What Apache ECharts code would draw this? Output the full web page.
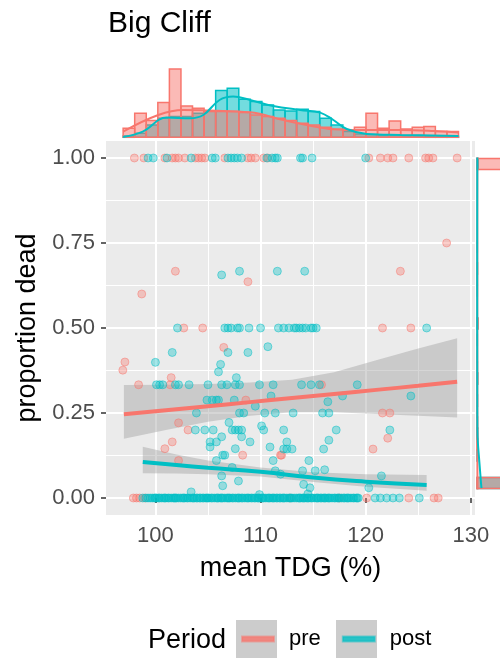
<!DOCTYPE html>
<html>
<head>
<meta charset="utf-8">
<title>Big Cliff</title>
<script src="https://cdn.jsdelivr.net/npm/echarts@6.0.0/dist/echarts.min.js"></script>
<style>
  html, body { margin: 0; padding: 0; background: #fff; }
  #chart { width: 500px; height: 658px; }
</style>
</head>
<body>
<div id="chart"></div>
<script>
var RED = '#F8766D'
var CYAN = '#00BFC4'
var FONT = 'Liberation Sans, Arial, sans-serif'

var xTicks = [100, 110, 120, 130]
var xMinor = [105, 115, 125]
var yTicks = [0, 0.25, 0.5, 0.75, 1]
var yMinor = [0.125, 0.375, 0.625, 0.875]

// pre period, mean TDG vs proportion dead
var preAt1 = [98.0, 98.9, 100.9, 101.6, 101.9, 102.2, 102.8, 103.8, 104.1, 104.4, 104.7, 106.6, 108.8, 109.1,
  109.5, 110.3, 110.7, 120.3, 121.4, 122.1, 122.6, 124.1, 125.7, 126.0, 126.4, 128.7]
var preAt0 = [97.9, 98.2, 98.5, 99.0, 112.8, 117.5, 120.1, 124.1, 126.5, 126.9]
var preMid = [[101.9, 0.667], [108.8, 0.636], [98.7, 0.6], [127.7, 0.75], [123.3, 0.667],
  [102.7, 0.5], [104.5, 0.5], [121.6, 0.5], [124.3, 0.5], [106.5, 0.443], [97.1, 0.4], [96.9, 0.376],
  [101.5, 0.354], [98.4, 0.333], [101.4, 0.333], [115.8, 0.333], [108.6, 0.288], [121.6, 0.25],
  [122.3, 0.25], [102.2, 0.221], [103.1, 0.2], [122.1, 0.176], [101.6, 0.165], [100.9, 0.145],
  [120.7, 0.144], [112.0, 0.126], [108.3, 0.126], [111.9, 0.126], [102.2, 0.11]]

// post period
var postAt1 = [99.3, 99.8, 101.1, 103.4, 105.4, 105.7, 106.9, 107.2, 107.5, 107.8, 108.2, 110.6, 111.1, 111.4,
  111.6, 113.8, 114.0, 114.9, 120.0]
var postAt0 = [98.8, 99.1, 99.3, 99.5, 99.7, 99.9, 100.0, 100.1, 100.3, 100.4, 100.6, 100.8, 100.9, 101.0,
  101.2, 101.3, 101.5, 101.7, 101.8, 101.9, 102.0, 102.2, 102.4, 102.6, 102.7, 102.8, 103.0, 103.1, 103.3,
  103.5, 103.6, 103.7, 103.9, 104.0, 104.2, 104.3, 104.5, 104.6, 104.8, 104.9, 105.0, 105.1, 105.3, 105.4,
  105.6, 105.8, 105.9, 106.0, 106.2, 106.3, 106.4, 106.6, 106.8, 106.9, 107.0, 107.1, 107.3, 107.4, 107.6,
  107.8, 107.9, 108.0, 108.2, 108.3, 108.5, 108.7, 108.8, 108.9, 109.1, 109.2, 109.4, 109.5, 109.7, 109.8,
  109.9, 110.1, 110.2, 110.3, 110.5, 110.7, 110.8, 110.9, 111.1, 111.2, 111.3, 111.5, 111.6, 111.8, 111.9,
  112.1, 112.2, 112.3, 112.5, 112.7, 112.8, 112.9, 113.0, 113.2, 113.4, 113.6, 113.7, 113.8, 114.0, 114.1,
  114.2, 114.4, 114.5, 114.6, 114.8, 114.9, 115.1, 115.3, 115.4, 115.5, 115.7, 115.8, 116.0, 116.1, 116.2,
  116.4, 116.5, 116.6, 116.8, 117.0, 117.1, 117.3, 117.4, 117.5, 117.7, 117.9, 118.0, 118.2, 118.3, 118.4,
  118.6, 118.8, 118.9, 119.1, 119.2, 119.3, 120.9, 121.4, 122.0, 122.6, 123.2, 125.1]
var postMid = [[106.3, 0.656], [108.0, 0.667], [111.6, 0.667], [114.2, 0.667],
  [102.1, 0.5], [106.6, 0.5], [106.9, 0.5], [107.2, 0.5], [107.8, 0.5], [108.0, 0.5], [108.9, 0.5],
  [110.0, 0.5], [111.7, 0.5], [112.2, 0.5], [112.7, 0.5], [113.2, 0.5], [113.4, 0.5], [113.7, 0.5],
  [114.0, 0.5], [114.3, 0.5], [114.8, 0.5], [115.0, 0.5], [115.3, 0.5], [125.8, 0.5],
  [110.7, 0.445], [101.6, 0.428], [106.9, 0.428], [108.8, 0.428], [100.0, 0.399], [106.2, 0.393],
  [106.0, 0.371], [107.7, 0.354],
  [100.1, 0.333], [100.4, 0.333], [100.7, 0.333], [101.9, 0.333], [102.2, 0.333], [103.2, 0.333],
  [105.0, 0.333], [106.3, 0.333], [106.8, 0.333], [107.6, 0.333], [108.0, 0.333], [109.9, 0.333],
  [111.2, 0.333], [113.9, 0.333], [114.8, 0.333], [115.6, 0.333], [119.2, 0.333],
  [104.9, 0.288], [105.4, 0.288], [105.8, 0.288], [106.0, 0.288], [107.5, 0.288], [111.0, 0.3],
  [116.4, 0.283], [117.8, 0.3], [124.3, 0.3],
  [103.9, 0.25], [108.0, 0.25], [108.4, 0.25], [110.4, 0.25], [111.4, 0.25], [113.1, 0.25],
  [115.9, 0.25], [116.5, 0.25], [109.5, 0.27], [107.0, 0.222],
  [103.8, 0.2], [104.7, 0.2], [105.5, 0.2], [107.3, 0.2], [107.6, 0.2], [107.9, 0.2], [108.2, 0.2],
  [110.3, 0.2], [112.2, 0.2], [117.2, 0.2], [122.3, 0.2], [110.1, 0.212],
  [106.3, 0.18], [108.2, 0.18], [105.2, 0.165], [105.8, 0.165], [109.0, 0.165], [112.5, 0.165],
  [116.5, 0.17], [105.2, 0.15],
  [112.2, 0.144], [112.5, 0.144], [113.0, 0.144], [107.6, 0.145], [110.9, 0.15], [116.0, 0.144],
  [106.4, 0.126], [106.6, 0.126], [105.8, 0.11], [111.2, 0.11], [114.6, 0.11],
  [107.3, 0.09], [116.1, 0.083], [114.0, 0.08], [115.2, 0.08], [111.4, 0.08], [111.9, 0.07],
  [121.5, 0.065], [106.3, 0.065], [107.9, 0.05], [114.1, 0.04], [114.7, 0.03], [120.3, 0.03],
  [114.5, 0.012], [106.4, 0.036], [103.4, 0.018], [109.9, 0.01]]

// fitted curves with confidence band
var preFitX = [97.0, 101, 105, 109, 113, 117, 121, 125, 128.7]
var preFit = [0.246, 0.258, 0.270, 0.282, 0.294, 0.306, 0.318, 0.330, 0.342]
var preLo = [0.174, 0.200, 0.224, 0.242, 0.252, 0.252, 0.247, 0.242, 0.237]
var preHi = [0.332, 0.333, 0.335, 0.340, 0.348, 0.370, 0.405, 0.440, 0.470]
var postFitX = [98.8, 102, 105, 110, 115, 120, 125.8]
var postFit = [0.106, 0.097, 0.089, 0.077, 0.060, 0.048, 0.038]
var postLo = [0.073, 0.072, 0.070, 0.063, 0.047, 0.033, 0.021]
var postHi = [0.151, 0.128, 0.110, 0.090, 0.076, 0.070, 0.068]

// top margin: histogram of mean TDG + density
var histEdges = [96.93, 98.03, 99.13, 100.23, 101.33, 102.43, 103.53, 104.63, 105.73, 106.83, 107.93, 109.03,
  110.13, 111.23, 112.33, 113.43, 114.53, 115.63, 116.73, 117.83, 118.93, 120.03, 121.13, 122.23, 123.33,
  124.43, 125.53, 126.63, 127.73, 128.83]
var preHist = [9, 24, 16.7, 34.7, 68.3, 31.3, 29, 25.7, 25.7, 25.7, 24.7, 22.3, 20.7, 19, 16.7, 14, 12.3, 10, 8,
  7.3, 10, 24, 9, 16.3, 8.3, 10, 10.7, 5.7, 5.7]
var postHist = [1.3, 4, 12.3, 19, 20.7, 20.7, 24, 26, 46.7, 49, 38, 35.7, 32.3, 27.3, 26.3, 28, 25.7, 19, 12.3,
  5.7, 3.3, 2.7, 2.3, 2, 1.7, 1.7, 1.3, 1.3, 1]
var preDens = [[96.93, 5.7], [100.27, 22.3], [102.65, 27.3], [105.19, 26.7], [109.0, 25], [112.17, 17.3],
  [114.4, 12.3], [116.93, 8], [119.48, 7.3], [123.29, 7.3], [126.46, 6.3], [128.84, 4.7]]
var postDens = [[96.93, 0.3], [98.8, 5.7], [101.07, 19.7], [103.3, 19], [104.55, 22.3], [106.1, 37.3],
  [107.4, 40.7], [109.0, 37.3], [111.2, 31.3], [113.76, 27.3], [115.67, 24.7], [116.93, 17.3],
  [118.2, 8.3], [120.1, 3.3], [123.3, 2.3], [128.84, 1.3]]

// right margin: histogram of proportion dead + density
var preSide = [[-0.017, 0.017, 100], [0.983, 1.017, 100], [0.103, 0.138, 3], [0.138, 0.172, 2.5],
  [0.172, 0.207, 2], [0.207, 0.241, 1.2], [0.241, 0.276, 2], [0.276, 0.31, 1.2], [0.31, 0.345, 3],
  [0.345, 0.379, 1.5], [0.379, 0.414, 1.2], [0.431, 0.466, 1.2], [0.483, 0.517, 4], [0.586, 0.621, 1.2],
  [0.621, 0.655, 1.2], [0.655, 0.69, 2], [0.724, 0.759, 1.2]]
var postSide = [[-0.017, 0.017, 100], [0.983, 1.017, 5], [0.069, 0.103, 2], [0.138, 0.172, 2],
  [0.31, 0.345, 2], [0.483, 0.517, 2.5]]
var preSideDens = [[1.5, 1.02], [1.2, 0.9], [1.2, 0.5], [1.3, 0.2], [1.6, 0.05], [2, -0.02]]
var postSideDens = [[1.2, 1.02], [0.8, 0.7], [1.0, 0.3], [1.5, 0.166], [4, 0.12], [8, 0.08], [12, 0.04],
  [16, 0.0], [18, -0.016]]

function pairsAt(xs, y) {
  return xs.map(function (x) { return [x, y] })
}

function histRect(fill, stroke) {
  return function (params, api) {
    var a = api.coord([api.value(0), api.value(2)])
    var b = api.coord([api.value(1), 0])
    return {
      type: 'rect',
      shape: { x: a[0], y: a[1], width: b[0] - a[0], height: b[1] - a[1] },
      style: { fill: fill, stroke: stroke, lineWidth: 1.5 }
    }
  }
}

function sideRect(fill, stroke) {
  return function (params, api) {
    var a = api.coord([0, api.value(1)])
    var b = api.coord([api.value(2), api.value(0)])
    return {
      type: 'rect',
      shape: { x: a[0], y: a[1], width: b[0] - a[0], height: b[1] - a[1] },
      style: { fill: fill, stroke: stroke, lineWidth: 1.5 }
    }
  }
}

function band(name, xs, lo, hi) {
  return {
    name: name,
    type: 'custom',
    xAxisIndex: 0,
    yAxisIndex: 0,
    silent: true,
    data: [[xs[0], lo[0]]],
    renderItem: function (params, api) {
      var pts = []
      for (var i = 0; i < xs.length; i++) pts.push(api.coord([xs[i], hi[i]]))
      for (var j = xs.length - 1; j >= 0; j--) pts.push(api.coord([xs[j], lo[j]]))
      return { type: 'polygon', shape: { points: pts }, style: { fill: 'rgba(153,153,153,0.4)' } }
    }
  }
}

function zip(xs, ys) {
  return xs.map(function (x, i) { return [x, ys[i]] })
}

var chart = echarts.init(document.getElementById('chart'))

var pointStyle = function (rgb) {
  return {
    color: 'rgba(' + rgb + ',0.45)',
    borderColor: 'rgba(' + rgb + ',0.6)',
    borderWidth: 1
  }
}

var hiddenAxis = { show: false }

chart.setOption({
  animation: false,
  backgroundColor: '#fff',
  textStyle: { fontFamily: FONT },
  title: {
    text: 'Big Cliff',
    left: 103,
    top: 4,
    textStyle: { fontSize: 30, fontWeight: 'normal', color: '#000', fontFamily: FONT }
  },
  legend: {
    left: 241,
    top: 628,
    padding: 0,
    z: 5,
    icon: 'rect',
    itemWidth: 32,
    itemHeight: 5,
    itemGap: 21,
    selectedMode: false,
    textStyle: { fontSize: 22, color: '#000', fontFamily: FONT, padding: [0, 0, 0, 10] },
    data: [
      { name: 'pre', itemStyle: { color: RED } },
      { name: 'post', itemStyle: { color: CYAN } }
    ]
  },
  graphic: [
    { type: 'rect', z: 1, shape: { x: 236, y: 620, width: 41, height: 41 }, style: { fill: '#CCCCCC' } },
    { type: 'rect', z: 1, shape: { x: 336, y: 620, width: 41, height: 41 }, style: { fill: '#CCCCCC' } },
    {
      type: 'text', z: 1, x: 148, y: 641,
      style: { text: 'Period', fontSize: 27, fill: '#000', font: '27px ' + FONT, verticalAlign: 'middle' }
    }
  ],
  grid: [
    { left: 106, top: 141, width: 369, height: 374, show: true, backgroundColor: '#EBEBEB', borderWidth: 0 },
    { left: 106, top: 62, width: 369, height: 75.3 },
    { left: 477, top: 148, width: 100, height: 351 }
  ],
  xAxis: [
    {
      type: 'value', gridIndex: 0, min: 95.3, max: 130.4,
      name: 'mean TDG (%)', nameLocation: 'middle', nameGap: 40,
      nameTextStyle: { fontSize: 27, color: '#000', fontFamily: FONT },
      axisLine: { show: false },
      axisTick: { show: true, length: 5, customValues: xTicks, lineStyle: { color: '#333', width: 1.5 } },
      axisLabel: { customValues: xTicks, fontSize: 22, color: '#4D4D4D', margin: 10, fontFamily: FONT },
      splitLine: { show: true, lineStyle: { color: '#fff', width: 2 } }
    },
    {
      type: 'value', gridIndex: 0, min: 95.3, max: 130.4, position: 'top',
      axisLine: { show: false },
      axisTick: { show: false, customValues: xMinor },
      axisLabel: { show: false, customValues: xMinor },
      splitLine: { show: true, lineStyle: { color: '#fff', width: 1 } }
    },
    { type: 'value', gridIndex: 1, min: 95.3, max: 130.4, show: false, splitLine: hiddenAxis },
    { type: 'value', gridIndex: 2, min: 0, max: 100, show: false, splitLine: hiddenAxis }
  ],
  yAxis: [
    {
      type: 'value', gridIndex: 0, min: -0.05, max: 1.05,
      name: 'proportion dead', nameLocation: 'middle', nameGap: 62, nameRotate: 90,
      nameTextStyle: { fontSize: 27, color: '#000', fontFamily: FONT },
      axisLine: { show: false },
      axisTick: { show: true, length: 5, customValues: yTicks, lineStyle: { color: '#333', width: 1.5 } },
      axisLabel: {
        customValues: yTicks, fontSize: 22, color: '#4D4D4D', margin: 11, fontFamily: FONT,
        formatter: function (v) { return v.toFixed(2) }
      },
      splitLine: { show: true, lineStyle: { color: '#fff', width: 2 } }
    },
    {
      type: 'value', gridIndex: 0, min: -0.05, max: 1.05, position: 'right',
      axisLine: { show: false },
      axisTick: { show: false, customValues: yMinor },
      axisLabel: { show: false, customValues: yMinor },
      splitLine: { show: true, lineStyle: { color: '#fff', width: 1 } }
    },
    { type: 'value', gridIndex: 1, min: 0, max: 75.3, show: false, splitLine: hiddenAxis },
    { type: 'value', gridIndex: 2, min: -0.05, max: 1.05, show: false, splitLine: hiddenAxis }
  ],
  series: [
    // top margin
    {
      type: 'custom', xAxisIndex: 2, yAxisIndex: 2, silent: true,
      encode: { x: [0, 1], y: 2 },
      data: postHist.map(function (h, i) { return [histEdges[i], histEdges[i + 1], h] }),
      renderItem: histRect('rgba(0,191,196,0.55)', CYAN)
    },
    {
      type: 'custom', xAxisIndex: 2, yAxisIndex: 2, silent: true,
      encode: { x: [0, 1], y: 2 },
      data: preHist.map(function (h, i) { return [histEdges[i], histEdges[i + 1], h] }),
      renderItem: histRect('rgba(248,118,109,0.5)', RED)
    },
    {
      type: 'line', xAxisIndex: 2, yAxisIndex: 2, data: preDens, smooth: 0.4, symbol: 'none', silent: true,
      lineStyle: { color: RED, width: 2 }
    },
    {
      type: 'line', xAxisIndex: 2, yAxisIndex: 2, data: postDens, smooth: 0.4, symbol: 'none', silent: true,
      lineStyle: { color: CYAN, width: 2 }
    },
    // right margin
    {
      type: 'custom', xAxisIndex: 3, yAxisIndex: 3, silent: true,
      encode: { x: 2, y: [0, 1] },
      data: postSide,
      renderItem: sideRect('rgba(0,191,196,0.55)', CYAN)
    },
    {
      type: 'custom', xAxisIndex: 3, yAxisIndex: 3, silent: true,
      encode: { x: 2, y: [0, 1] },
      data: preSide,
      renderItem: sideRect('rgba(248,118,109,0.5)', RED)
    },
    {
      type: 'line', xAxisIndex: 3, yAxisIndex: 3, data: preSideDens, smooth: 0.4, symbol: 'none', silent: true,
      lineStyle: { color: RED, width: 2 }
    },
    {
      type: 'line', xAxisIndex: 3, yAxisIndex: 3, data: postSideDens, smooth: 0.4, symbol: 'none', silent: true,
      lineStyle: { color: CYAN, width: 2 }
    },
    // main panel
    {
      name: 'pre', type: 'scatter', xAxisIndex: 0, yAxisIndex: 0, symbolSize: 8,
      data: pairsAt(preAt1, 1).concat(pairsAt(preAt0, 0), preMid),
      itemStyle: pointStyle('248,118,109')
    },
    {
      name: 'post', type: 'scatter', xAxisIndex: 0, yAxisIndex: 0, symbolSize: 8,
      data: pairsAt(postAt1, 1).concat(pairsAt(postAt0, 0), postMid),
      itemStyle: pointStyle('0,191,196')
    },
    band('pre', preFitX, preLo, preHi),
    band('post', postFitX, postLo, postHi),
    {
      name: 'pre', type: 'line', xAxisIndex: 0, yAxisIndex: 0, data: zip(preFitX, preFit),
      smooth: true, symbol: 'none', lineStyle: { color: RED, width: 4 }, itemStyle: { color: RED }
    },
    {
      name: 'post', type: 'line', xAxisIndex: 0, yAxisIndex: 0, data: zip(postFitX, postFit),
      smooth: true, symbol: 'none', lineStyle: { color: CYAN, width: 4 }, itemStyle: { color: CYAN }
    }
  ]
})
</script>
</body>
</html>
